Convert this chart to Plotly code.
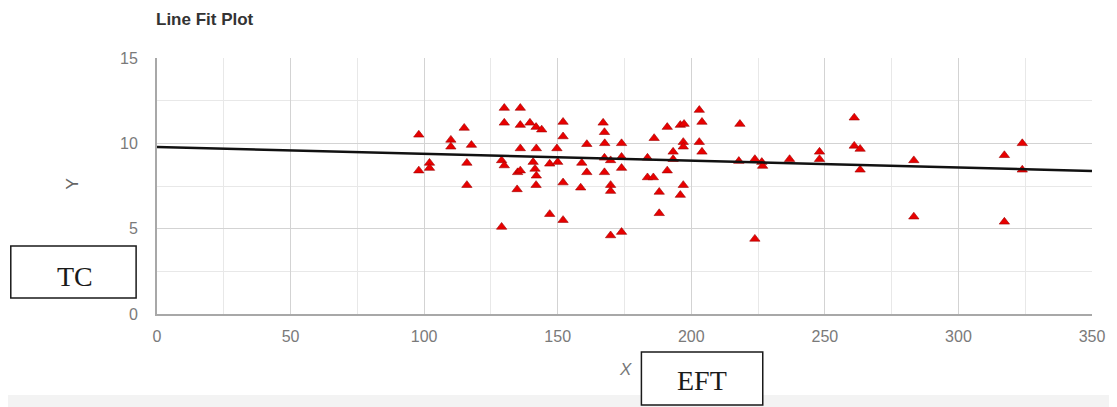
import plotly.graph_objects as go

# ---- data ----
x_vals = [98, 98, 102, 102, 110, 110, 115, 117.7, 116, 116,
          130, 130, 129, 130, 129, 136, 136, 139.6, 141.9, 144,
          136, 142, 135, 136, 140.8, 141.5, 142, 134.8, 141.9, 147,
          149.7, 152, 152, 150, 152, 147, 152, 158.6, 159, 160.9,
          160.9, 167, 167.5, 167.6, 167.5, 169.8, 167.5, 169.8, 169.8, 169.8,
          173.9, 173.9, 173.9, 173.9, 183.6, 183.6, 185.8, 186.1, 188, 188,
          191, 191, 193.2, 193.2, 195.9, 197.3, 197, 197, 197, 195.9,
          203, 203, 204, 204, 218.2, 217.8, 223.8, 226.4, 226.7, 223.8,
          236.8, 248, 248, 261, 261, 263.2, 263.2, 283.3, 283.3, 317.2,
          317.2, 323.9, 323.9]
y_vals = [10.5, 8.4, 8.85, 8.55, 10.2, 9.8, 10.9, 9.9, 8.85, 7.55,
          12.07, 11.2, 9.0, 8.7, 5.1, 12.07, 11.07, 11.2, 10.95, 10.8,
          9.7, 9.7, 8.3, 8.4, 8.9, 8.5, 8.1, 7.3, 7.55, 8.8,
          9.7, 11.25, 10.4, 8.9, 7.7, 5.85, 5.5, 7.4, 8.85, 9.95,
          8.3, 11.2, 10.65, 10.0, 9.15, 9.0, 8.3, 7.55, 7.2, 4.6,
          10.0, 9.2, 8.55, 4.8, 9.15, 8.0, 8.0, 10.3, 7.15, 5.9,
          10.95, 8.4, 9.5, 9.07, 11.07, 11.13, 10.07, 9.8, 7.55, 6.97,
          11.95, 10.07, 11.25, 9.5, 11.13, 8.96, 9.07, 8.9, 8.67, 4.4,
          9.07, 9.5, 9.07, 11.5, 9.85, 9.67, 8.45, 9.0, 5.7, 9.3,
          5.4, 10.0, 8.45]
fit_x = [0, 350]
fit_y = [9.78, 8.38]
x_ticks = [0, 50, 100, 150, 200, 250, 300, 350]
y_ticks = [0, 5, 10, 15]

# ---- layout geometry (page pixels; the page body adds an 8px offset) ----
OFF = 8
PAGE_W, PAGE_H = 1117, 407
W, H = PAGE_W - OFF, PAGE_H - OFF
PL, PR, PT, PB = 157, 1097, 58, 314


def fx(px):
    return (px - PL) / (PR - PL)


def fy(py):
    return (PB - py) / (PB - PT)


fig = go.Figure()
fig.add_trace(go.Scatter(
    x=x_vals, y=y_vals, mode="markers",
    marker=dict(symbol="triangle-up", size=9, color="#e80000",
                line=dict(width=0.6, color="#a00000")),
    showlegend=False, hoverinfo="x+y"))
fig.add_trace(go.Scatter(
    x=fit_x, y=fit_y, mode="lines",
    line=dict(color="#111111", width=2.5),
    showlegend=False, hoverinfo="skip"))

axis_font = dict(family="Liberation Sans, Arial, sans-serif", size=16, color="#7a7a7a")

fig.update_xaxes(
    range=[0, 350], tickvals=x_ticks, showgrid=True, gridcolor="#d3d3d3", gridwidth=1,
    minor=dict(dtick=25, showgrid=True, gridcolor="#e8e8e8", gridwidth=1),
    showline=True, linecolor="#a8a8a8", linewidth=2, zeroline=False,
    ticks="outside", ticklen=7, tickcolor="rgba(0,0,0,0)", tickfont=axis_font)
fig.update_yaxes(
    range=[0, 15], tickvals=y_ticks, showgrid=True, gridcolor="#d3d3d3", gridwidth=1,
    minor=dict(dtick=2.5, showgrid=True, gridcolor="#e8e8e8", gridwidth=1),
    showline=True, linecolor="#a8a8a8", linewidth=2, zeroline=False,
    ticks="outside", ticklen=14, tickcolor="rgba(0,0,0,0)", tickfont=axis_font)

shapes = [
    # faint band at the bottom of the page
    dict(type="rect", xref="paper", yref="paper", x0=fx(0), x1=fx(PAGE_W), y0=fy(395), y1=fy(PAGE_H + 2),
         fillcolor="#f3f3f3", line=dict(width=0), layer="below"),
    # TC box
    dict(type="rect", xref="paper", yref="paper", x0=fx(10), x1=fx(136), y0=fy(298), y1=fy(246),
         fillcolor="white", line=dict(color="#1a1a1a", width=1.5), layer="above"),
    # EFT box
    dict(type="rect", xref="paper", yref="paper", x0=fx(644), x1=fx(766), y0=fy(405), y1=fy(352),
         fillcolor="white", line=dict(color="#1a1a1a", width=1.5), layer="above"),
]

annotations = [
    dict(text="<b>Line Fit Plot</b>", xref="paper", yref="paper", x=fx(154), y=fy(19),
         xanchor="left", yanchor="middle", showarrow=False,
         font=dict(family="Liberation Sans, Arial, sans-serif", size=17, color="#333333")),
    dict(text="Y", xref="paper", yref="paper", x=fx(72), y=fy(184), textangle=-90,
         xanchor="center", yanchor="middle", showarrow=False,
         font=dict(family="Liberation Sans, Arial, sans-serif", size=17, color="#666666")),
    dict(text="<i>X</i>", xref="paper", yref="paper", x=fx(628), y=fy(369),
         xanchor="center", yanchor="middle", showarrow=False,
         font=dict(family="Liberation Sans, Arial, sans-serif", size=17, color="#777777")),
    dict(text="TC", xref="paper", yref="paper", x=fx(75), y=fy(276),
         xanchor="center", yanchor="middle", showarrow=False,
         font=dict(family="Liberation Serif, Times New Roman, serif", size=28, color="#1a1a1a")),
    dict(text="EFT", xref="paper", yref="paper", x=fx(705), y=fy(380),
         xanchor="center", yanchor="middle", showarrow=False,
         font=dict(family="Liberation Serif, Times New Roman, serif", size=28, color="#1a1a1a")),
]

fig.update_layout(
    width=W, height=H, autosize=False,
    margin=dict(l=PL - OFF, r=PAGE_W - PR, t=PT - OFF, b=PAGE_H - PB, pad=0),
    paper_bgcolor="white", plot_bgcolor="white",
    shapes=shapes, annotations=annotations, showlegend=False)

fig.write_html("out.html")
